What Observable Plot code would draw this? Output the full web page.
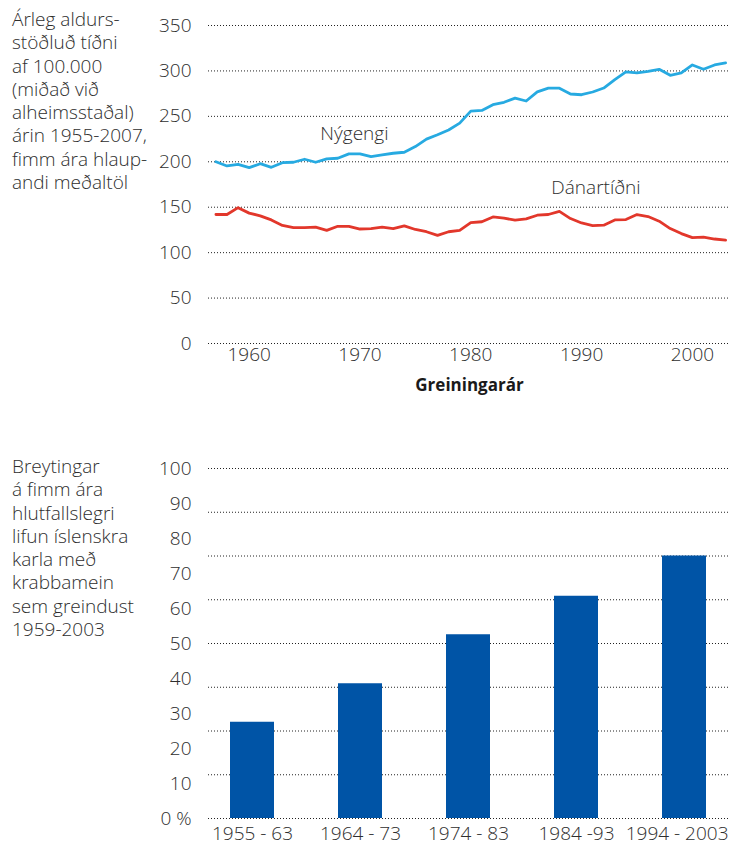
<!DOCTYPE html>
<html><head><meta charset="utf-8">
<script src="https://cdn.jsdelivr.net/npm/d3@7"></script>
<script src="https://cdn.jsdelivr.net/npm/@observablehq/plot@0.6"></script>
<style>
body{margin:0;background:#fff;font-family:"Open Sans",sans-serif;color:#333;}
#wrap{position:relative;width:730px;height:853px;overflow:hidden}
#wrap svg{display:block}
.side{position:absolute;left:12px;font-size:19px;font-weight:300;white-space:pre;color:#2e2e2e;line-height:23.3px}
#t1{top:8px}
#t2{top:455px}
</style></head><body>
<div id="wrap">
 <div id="c1"></div><div id="c2"></div>
 <div class="side" id="t1"></div><div class="side" id="t2"></div>
</div>
<script>
// ---- Data: top chart ----
const years = [1957,1958,1959,1960,1961,1962,1963,1964,1965,1966,
  1967,1968,1969,1970,1971,1972,1973,1974,1975,1976,
  1977,1978,1979,1980,1981,1982,1983,1984,1985,1986,
  1987,1988,1989,1990,1991,1992,1993,1994,1995,1996,
  1997,1998,1999,2000,2001,2002,2003];
const incidenceValues = [200,195.4,197.2,193.5,197.9,193.9,199,199.5,202.8,199.5,
  203.2,203.9,208.7,208.7,205.7,207.6,209.4,210.5,216.7,224.9,
  229.7,235,242.5,255.8,256.5,262.8,265.5,270,266.9,277,
  281,281,274.6,273.8,276.8,281.2,290.4,298.9,297.8,299.6,
  301.8,295.2,297.8,306.6,301.8,306.6,308.8];
const mortalityValues = [142,142,149.5,143.5,140.5,136,130,127.5,127.5,128,
  124.5,129,129,126,126.5,128,126.5,129.5,125.5,123,
  119,123,124.5,133,134,139.3,138,135.7,137.1,141.2,
  142,145.4,137.5,132.7,129.8,130.2,136,136.4,141.9,139.7,
  134.6,126.5,121,116.5,117,115,113.7];
const topYTicks = [0,50,100,150,200,250,300,350];
const topXTicks = [1960,1970,1980,1990,2000];
const seriesLabels = ["Nýgengi","Dánartíðni"];
const labelYears = [1969.5,1991.3];
const labelValues = [231,171];
const topAxisTitle = "Greiningarár";
const topSideText = ["Árleg aldurs-","stöðluð tíðni","af 100.000","(miðað við","alheimsstaðal)","árin 1955-2007,","fimm ára hlaup-","andi meðaltöl"];

// ---- Data: bottom chart ----
const periods = ["1955 - 63","1964 - 73","1974 - 83","1984 -93","1994 - 2003"];
const survival = [27.5,38.5,52.5,63.5,75];
const bottomYTicks = [0,10,20,30,40,50,60,70,80,90,100];
const bottomGrid = [0,12.5,25,37.5,50,62.5,75,87.5,100];
const bottomSideText = ["Breytingar","á fimm ára","hlutfallslegri","lifun íslenskra","karla með","krabbamein","sem greindust","1959-2003"];

// ---- Build tables ----
const incidence = years.map((y,i)=>({year:y,value:incidenceValues[i]}));
const mortality = years.map((y,i)=>({year:y,value:mortalityValues[i]}));
const annotations = seriesLabels.map((t,i)=>({text:t,x:labelYears[i],y:labelValues[i]}));
const survTable = periods.map((p,i)=>({period:p,value:survival[i]}));
const lastPeriod = periods[periods.length-1];

const font = "'Open Sans', sans-serif";
const gridStyle = {stroke:"#222", strokeWidth:1, strokeDasharray:"1,2"};
const FS = 19;

const chartTop = Plot.plot({
  width:730, height:410, marginTop:25, marginBottom:67, marginLeft:208, marginRight:0,
  style:{fontFamily:font, fontSize:FS+"px", color:"#2e2e2e", background:"transparent", overflow:"visible"},
  x:{domain:[1956.33,2003.44]},
  y:{domain:[0,350]},
  marks:[
    Plot.ruleY(topYTicks, gridStyle),
    Plot.axisY(topYTicks,{tickSize:0, tickPadding:17, fontSize:FS, label:null, fontWeight:300}),
    Plot.axisX(topXTicks,{tickSize:0, tickPadding:4, fontSize:FS, label:null, fontWeight:300, tickFormat:d=>String(d)}),
    Plot.line(incidence,{x:"year", y:"value", stroke:"#27aae1", strokeWidth:2.8}),
    Plot.line(mortality,{x:"year", y:"value", stroke:"#e2372b", strokeWidth:2.8}),
    Plot.text(annotations,{x:"x", y:"y", text:"text", fontSize:FS, fontWeight:300, fill:"#2e2e2e"}),
    Plot.text([topAxisTitle],{frameAnchor:"bottom", dy:47, fontSize:17, fontWeight:"bold", fill:"#1a1a1a"})
  ]
});
document.getElementById("c1").appendChild(chartTop);

const chartBottom = Plot.plot({
  width:730, height:443, marginTop:58, marginBottom:35, marginLeft:208, marginRight:2,
  style:{fontFamily:font, fontSize:FS+"px", color:"#2e2e2e", background:"transparent", overflow:"visible"},
  x:{domain:periods, paddingInner:0.59, paddingOuter:0.2, axis:null},
  y:{domain:[0,100]},
  marks:[
    Plot.ruleY(bottomGrid, gridStyle),
    Plot.barY(survTable,{x:"period", y:"value", fill:"#0054a6"}),
    Plot.axisY(bottomYTicks,{tickSize:0, tickPadding:17, fontSize:FS, label:null, fontWeight:300, tickFormat:d=>d===0?"0 %":String(d)}),
    Plot.text(survTable.filter(d=>d.period!==lastPeriod),{x:"period", text:"period", frameAnchor:"bottom", dy:21, fontSize:FS, fontWeight:300, fill:"#2e2e2e"}),
    Plot.text(survTable.filter(d=>d.period===lastPeriod),{x:"period", text:"period", frameAnchor:"bottom", dy:21, dx:44, textAnchor:"end", fontSize:FS, fontWeight:300, fill:"#2e2e2e"})
  ]
});
document.getElementById("c2").appendChild(chartBottom);

document.getElementById("t1").textContent = topSideText.join("\n");
document.getElementById("t2").textContent = bottomSideText.join("\n");
</script>
</body></html>
